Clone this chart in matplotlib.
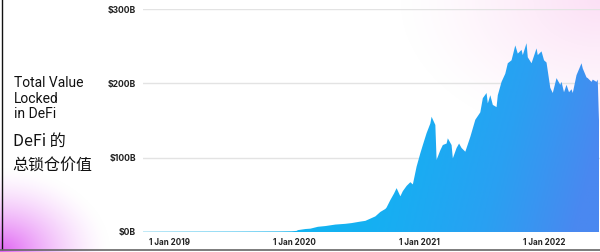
import matplotlib
matplotlib.use("Agg")
import matplotlib.pyplot as plt
from matplotlib.colors import LinearSegmentedColormap
from matplotlib.lines import Line2D
import numpy as np

# time as decimal years, TVL in $B
years = [2018.79, 2018.93, 2019.25, 2019.57, 2019.89, 2019.98, 2020.02, 2020.03,
         2020.09, 2020.13, 2020.19, 2020.25, 2020.33, 2020.41, 2020.46, 2020.53,
         2020.57, 2020.61, 2020.65, 2020.69, 2020.73, 2020.74, 2020.77, 2020.80,
         2020.82, 2020.85, 2020.87, 2020.90, 2020.93, 2020.95, 2020.98, 2021.01,
         2021.03, 2021.06, 2021.09, 2021.10, 2021.13, 2021.14, 2021.17, 2021.19,
         2021.22, 2021.23, 2021.26, 2021.27, 2021.30, 2021.32, 2021.34, 2021.37,
         2021.41, 2021.45, 2021.49, 2021.51, 2021.54, 2021.55, 2021.57, 2021.59,
         2021.62, 2021.63, 2021.66, 2021.69, 2021.71, 2021.74, 2021.77, 2021.79,
         2021.82, 2021.83, 2021.86, 2021.87, 2021.90, 2021.94, 2021.95, 2021.98,
         2022.00, 2022.02, 2022.05, 2022.07, 2022.10, 2022.13, 2022.14, 2022.16,
         2022.18, 2022.20, 2022.22, 2022.23, 2022.26, 2022.30, 2022.31, 2022.34,
         2022.35, 2022.38, 2022.39, 2022.42, 2022.43, 2022.44]
tvl = [0.3, 0.4, 0.5, 0.6, 0.8, 1.0, 1.5, 2.5,
       4, 4.5, 7, 8, 10, 11, 12, 14,
       15, 18, 21, 27, 31, 33, 43, 52,
       59, 48, 55, 62, 67, 64, 88, 106,
       117, 133, 146, 155, 144, 97, 110, 117,
       119, 126, 117, 99, 113, 119, 113, 108,
       128, 151, 161, 180, 187, 173, 184, 171,
       168, 184, 202, 213, 227, 231, 251, 240,
       245, 238, 254, 235, 227, 247, 238, 243,
       231, 228, 194, 187, 207, 198, 202, 188,
       198, 188, 192, 187, 211, 227, 220, 208,
       207, 202, 205, 202, 205, 150]

y_ticks = [0, 100, 200, 300]
y_labels = ["$0B", "$100B", "$200B", "$300B"]
x_ticks = [2019, 2020, 2021, 2022]
x_labels = ["1 Jan 2019", "1 Jan 2020", "1 Jan 2021", "1 Jan 2022"]

fig = plt.figure(figsize=(6, 2.52), dpi=100)

# background glows
H, W = 252, 600
yy, xx = np.mgrid[0:H, 0:W]
bg = np.ones((H, W, 3))
d1 = np.hypot((xx - 600) / 200.0, yy / 140.0)
a1 = np.clip(1 - d1, 0, 1) ** 1.2 * 0.32
c1 = np.array([0.96, 0.62, 0.88])
d2 = np.hypot(xx / 110.0, (yy - 252) / 85.0)
a2 = np.clip(1 - d2, 0, 1) ** 1.5 * 0.95
c2 = np.array([0.87, 0.35, 0.95])
for a, c in ((a1, c1), (a2, c2)):
    bg = bg * (1 - a[..., None]) + c * a[..., None]
bgax = fig.add_axes([0, 0, 1, 1], zorder=-1)
bgax.imshow(bg, extent=[0, 1, 0, 1], aspect="auto")
bgax.axis("off")

ax = fig.add_axes([143 / 600, 20 / 252, 457 / 600, 223 / 252])
ax.set_facecolor("none")
x0, x1 = 2018.79, 2022.448
ax.set_xlim(x0, x1)
ax.set_ylim(0, 300)

for t in y_ticks:
    ax.axhline(t, color="#e3e3e3", lw=1.0, zorder=1)

poly = ax.fill_between(years, tvl, 0, color="none", lw=0)
gx = np.linspace(0, 1, 300)
gy = np.linspace(0, 1, 150)
GX, GY = np.meshgrid(gx, gy)
grad = np.clip(0.85 * GX ** 2 + 0.25 * (1 - GY) * GX, 0, 1)
cmap = LinearSegmentedColormap.from_list("tvl", ["#10b8f0", "#15b0f2", "#2aa0f2", "#4a88f0"])
img = ax.imshow(grad, extent=[x0, x1, 0, 300], origin="lower", aspect="auto",
                cmap=cmap, vmin=0, vmax=1, zorder=2)
img.set_clip_path(poly.get_paths()[0], transform=ax.transData)

ax.set_yticks(y_ticks)
ax.set_yticklabels(y_labels, fontsize=6.2, fontweight="bold", fontfamily="Inter", color="#222222")
ax.set_xticks(x_ticks)
ax.set_xticklabels(x_labels, fontsize=5.8, fontweight="bold", fontfamily="Inter", color="#222222")
ax.tick_params(axis="both", length=0)
ax.tick_params(axis="y", pad=5)
ax.tick_params(axis="x", pad=4)
for s in ax.spines.values():
    s.set_visible(False)

fig.text(14 / 600, 1 - 76 / 252, "Total Value\nLocked\nin DeFi", fontsize=10,
         fontfamily="Roboto", color="#111111", va="top", ha="left", linespacing=1.15)
fig.text(13 / 600, 1 - 141 / 252, "DeFi 的", fontsize=11.5,
         fontfamily=["Noto Sans CJK SC", "DejaVu Sans"], color="#111111", va="center", ha="left")
fig.text(12 / 600, 1 - 166 / 252, "总锁仓价值", fontsize=11.5,
         fontfamily=["Noto Sans CJK SC", "DejaVu Sans"], color="#111111", va="center", ha="left")

fig.add_artist(Line2D([1.5 / 600, 1.5 / 600], [3 / 252, 1], color="#111111", lw=1.0))
fig.add_artist(Line2D([0, 1], [2.5 / 252, 2.5 / 252], color="#666666", lw=1.2))

fig.savefig("out.png", dpi=100)
